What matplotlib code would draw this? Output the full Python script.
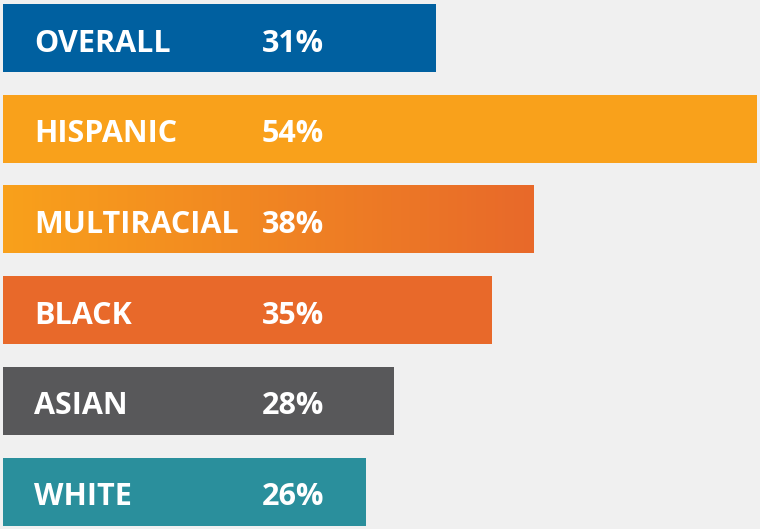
import numpy as np
import matplotlib
matplotlib.use('Agg')
import matplotlib.pyplot as plt
from matplotlib.colors import LinearSegmentedColormap

# données
groupes = ['OVERALL', 'HISPANIC', 'MULTIRACIAL', 'BLACK', 'ASIAN', 'WHITE']
valeurs = [31, 54, 38, 35, 28, 26]
couleurs = ['#0060a0', '#f9a11b', None, '#e8692a', '#58585a', '#2a8f9c']
grad = ['#f9a11b', '#e8692a']

fond = '#f0f0f0'
px = 13.963   # pixels par point de %
py = 90.7     # pixels entre barres

fig = plt.figure(figsize=(7.6, 5.29), dpi=100, facecolor=fond)
ax = fig.add_axes([0, 0, 1, 1])
ax.set_facecolor(fond)
x0 = -3 / px
ax.set_xlim(x0, x0 + 760 / px)
y0 = -38 / py
ax.set_ylim(y0 + 529 / py, y0)
ax.axis('off')

h = 68 / py
cmap = LinearSegmentedColormap.from_list('g', grad)
for i, (g, v, c) in enumerate(zip(groupes, valeurs, couleurs)):
    if c is None:
        ax.imshow(np.linspace(0, 1, 256).reshape(1, -1), cmap=cmap, aspect='auto',
                  extent=(0, v, i + h / 2, i - h / 2), zorder=2)
    else:
        ax.barh(i, v, height=h, color=c, zorder=2)
    yb = i + 13.5 / py
    ax.text(31 / px, yb, g, color='white', fontsize=22, fontweight='bold',
            family='Open Sans', va='baseline', zorder=3)
    ax.text(259 / px, yb, f'{v}%', color='white', fontsize=22, fontweight='bold',
            family='Open Sans', va='baseline', zorder=3)

fig.savefig('out.png', dpi=100, facecolor=fond)
